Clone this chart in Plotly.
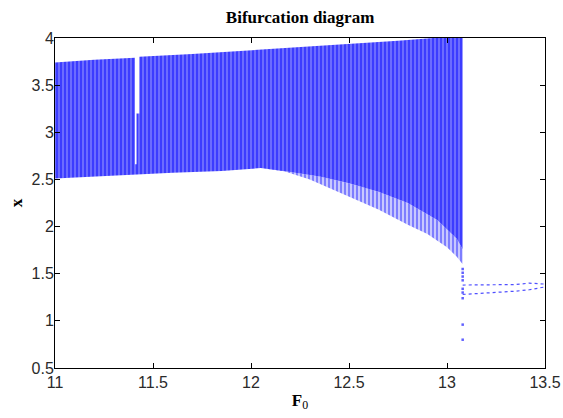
import plotly.graph_objects as go

# Upper envelope of the chaotic band (F0, x)
upper_f0 = [11.0, 11.2, 11.408, 11.408, 11.416, 11.416, 11.43, 11.43, 11.7, 12.0, 12.25, 12.5, 12.75, 12.93, 13.08]
upper_x  = [3.74, 3.77, 3.79, 2.66, 2.66, 3.20, 3.20, 3.80, 3.83, 3.87, 3.90, 3.93, 3.97, 4.00, 4.05]

# Lower edge of the dense part of the band (F0, x)
lower_f0 = [11.0, 11.4, 11.6, 11.85, 12.05, 12.2, 12.35, 12.5, 12.65, 12.8, 12.95, 13.05, 13.08]
lower_x  = [2.51, 2.55, 2.57, 2.59, 2.62, 2.58, 2.53, 2.46, 2.37, 2.25, 2.07, 1.87, 1.76]

# Lower edge of the sparse, scattered points below the band (F0, x)
sparse_f0 = [12.05, 12.15, 12.3, 12.5, 12.65, 12.8, 12.9, 13.0, 13.05, 13.08]
sparse_x  = [2.62, 2.60, 2.50, 2.32, 2.18, 2.02, 1.92, 1.78, 1.68, 1.60]

# Period-2 branches after the crisis
branch_f0 = [13.08, 13.25, 13.35, 13.42, 13.5]
branch_hi = [1.38, 1.38, 1.385, 1.40, 1.39]
branch_lo = [1.28, 1.30, 1.315, 1.33, 1.36]

# Transient points at the crisis value
crisis_f0 = [13.08] * 9
crisis_x  = [1.55, 1.51, 1.47, 1.43, 1.34, 1.30, 1.24, 0.96, 0.80]

x_ticks = [11, 11.5, 12, 12.5, 13, 13.5]
y_ticks = [0.5, 1, 1.5, 2, 2.5, 3, 3.5, 4]

blue = "#0000ff"

fig = go.Figure()

# sparse scattered zone
dense_tail_f0 = [f for f in lower_f0 if f >= 12.05]
dense_tail_x = [x for f, x in zip(lower_f0, lower_x) if f >= 12.05]
fig.add_trace(go.Scatter(
    x=dense_tail_f0 + sparse_f0[::-1], y=dense_tail_x + sparse_x[::-1],
    mode="lines", fill="toself", line=dict(width=0, color=blue),
    fillcolor="#c8c8ff",
    fillpattern=dict(shape="|", size=4, solidity=0.45, fgcolor="#2020ff", bgcolor="#c8c8ff"),
    hoverinfo="skip", showlegend=False,
))

# dense chaotic band
fig.add_trace(go.Scatter(
    x=upper_f0 + lower_f0[::-1], y=upper_x + lower_x[::-1],
    mode="lines", fill="toself", line=dict(width=0, color=blue),
    fillcolor="#7878ff",
    fillpattern=dict(shape="|", size=4, solidity=0.6, fgcolor=blue, bgcolor="#7878ff"),
    hoverinfo="skip", showlegend=False,
))

for ys in (branch_hi, branch_lo):
    fig.add_trace(go.Scatter(
        x=branch_f0, y=ys, mode="lines",
        line=dict(color="#5050ff", width=1.2, dash="dot"),
        showlegend=False,
    ))

fig.add_trace(go.Scatter(
    x=crisis_f0, y=crisis_x, mode="markers",
    marker=dict(color="#6060ff", size=2.5, symbol="square"),
    showlegend=False,
))

axis_common = dict(
    showline=True, linecolor="black", linewidth=1, mirror="ticks",
    ticks="inside", ticklen=5, tickcolor="black", showgrid=False, zeroline=False,
    automargin=False,
    tickfont=dict(family="Liberation Sans", size=16, color="#2a2a2a"),
)

fig.update_layout(
    width=563, height=418,
    margin=dict(l=55, r=18, t=38, b=50),
    paper_bgcolor="white", plot_bgcolor="white",
    title=dict(text="<b>Bifurcation diagram</b>", x=0.533, xanchor="center", y=0.959, yanchor="middle",
               font=dict(family="Liberation Serif", size=17, color="black")),
    xaxis=dict(range=[11, 13.5], tickvals=x_ticks, ticktext=[f"{v:g}" for v in x_ticks],
               title=dict(text="<b>F</b><sub>0</sub>", font=dict(family="Liberation Serif", size=17, color="black"), standoff=3),
               **axis_common),
    yaxis=dict(range=[0.5, 4], tickvals=y_ticks, ticktext=[f"{v:g}" for v in y_ticks],
               ticklabelstandoff=-3,
               title=dict(text="<b>x</b>", font=dict(family="Liberation Serif", size=17, color="black"), standoff=4),
               **axis_common),
)

fig.write_html("out.html", config={"displayModeBar": False},
               post_script="document.body.style.margin='0px';document.body.style.overflow='hidden';")
